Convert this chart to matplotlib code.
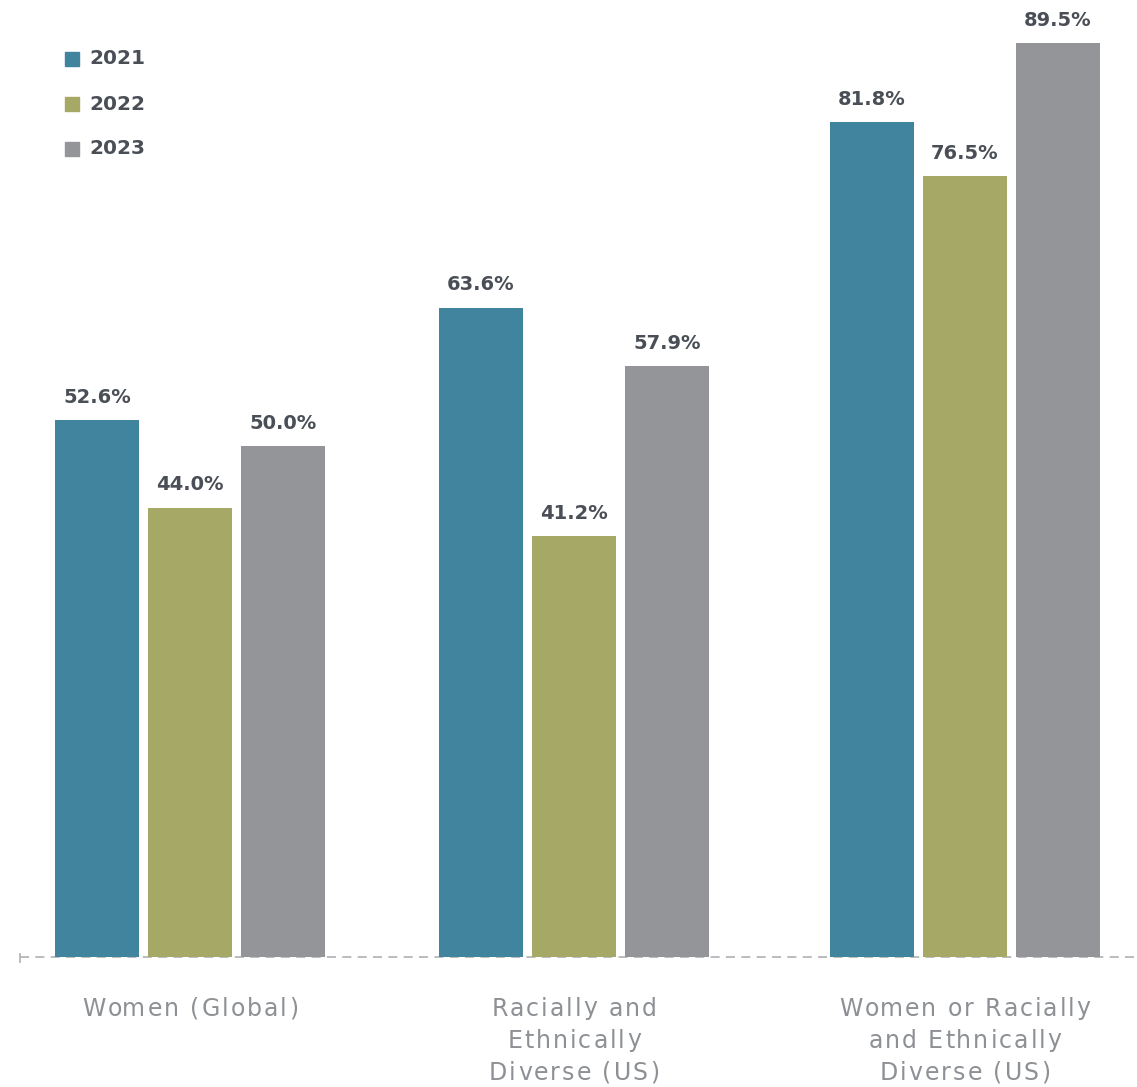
import matplotlib
matplotlib.use("Agg")
import matplotlib.pyplot as plt
from matplotlib.font_manager import FontProperties
import numpy as np

categories = ["Women (Global)", "Racially and\nEthnically\nDiverse (US)", "Women or Racially\nand Ethnically\nDiverse (US)"]
years = ["2021", "2022", "2023"]
values_2021 = [52.6, 63.6, 81.8]
values_2022 = [44.0, 41.2, 76.5]
values_2023 = [50.0, 57.9, 89.5]
colors = ["#41849e", "#a6a865", "#949599"]

series = [values_2021, values_2022, values_2023]

W, H = 1137, 1087
fig = plt.figure(figsize=(W / 100, H / 100), dpi=100)
ax = fig.add_axes([20 / W, (H - 957) / H, 1 - 20 / W, 957 / H])

x = np.array([0.0, 1.0, 2.018])
step = 93 / 384
bw = 84 / 384
label_color = "#4a4e56"
for i, (vals, col) in enumerate(zip(series, colors)):
    pos = x + (i - 1) * step
    ax.bar(pos, vals, width=bw, color=col, zorder=2)
    for p, v in zip(pos, vals):
        ax.text(p, v + 1.3, f"{v:.1f}%", ha="center", va="bottom", fontsize=14,
                fontweight="bold", color=label_color, family="DejaVu Sans", clip_on=False)

x0 = -170 / 384
ax.set_xlim(x0, (1137 - 190) / 384)
ax.set_ylim(0, 957 / 10.21)
for s in ax.spines.values():
    s.set_visible(False)
ax.set_yticks([])
ax.set_xticks([])
ax.axhline(0, color="#b5b6b9", lw=1.3, ls=(0, (5, 3.5)), zorder=1, clip_on=False)
ax.plot([x0, x0], [0.3, -0.5], color="#b5b6b9", lw=1.3, clip_on=False)

# category labels with letter spacing
fig.canvas.draw()
renderer = fig.canvas.get_renderer()
fp = FontProperties(family="DejaVu Sans", size=17)
tracking = 2.0  # px
cat_color = "#8d9094"

def text_w(s):
    if not s:
        return 0.0
    w, h, d = renderer.get_text_width_height_descent(s, fp, ismath=False)
    return w

for xi, cat in zip(x, categories):
    cx_pix = ax.transData.transform((xi, 0))[0]
    for li, line in enumerate(cat.split("\n")):
        total = text_w(line) + tracking * (len(line) - 1)
        start = cx_pix - total / 2
        ypix = 1006 + li * 32
        for k, ch in enumerate(line):
            if ch == " ":
                continue
            xp = start + text_w(line[:k]) + tracking * k
            fig.text(xp / W, 1 - ypix / H, ch, ha="left", va="center_baseline",
                     fontproperties=fp, color=cat_color)

# legend
for j, (yr, col) in enumerate(zip(years, colors)):
    ypix = 59 + j * 45
    fig.patches.append(plt.Rectangle((65 / W, 1 - (ypix + 7) / H), 14 / W, 14 / H,
                                     transform=fig.transFigure, color=col))
    fig.text(89 / W, 1 - ypix / H, yr, ha="left", va="center", fontsize=14.5,
             fontweight="bold", color=label_color)

fig.savefig("out.png", dpi=100)
